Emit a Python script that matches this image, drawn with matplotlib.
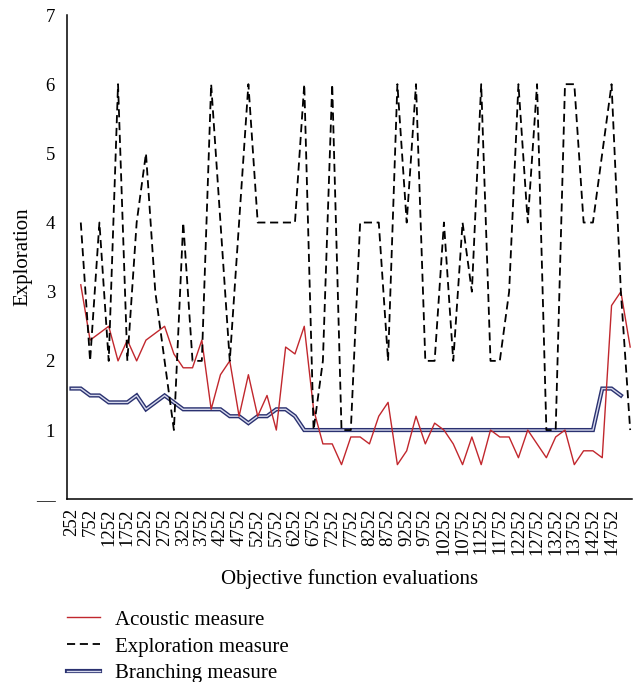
import numpy as np
import matplotlib.pyplot as plt
from matplotlib.lines import Line2D
from matplotlib.legend_handler import HandlerTuple

plt.rcParams['font.family'] = ['Liberation Serif', 'DejaVu Serif']

# evaluation counts (every 250 evaluations)
branch_evals = np.arange(252, 15003, 250)
measure_evals = np.arange(502, 15253, 250)

acoustic = [3.1, 2.3, 2.4, 2.5, 2.0, 2.3, 2.0, 2.3, 2.4, 2.5,
            2.1, 1.9, 1.9, 2.3, 1.3, 1.8, 2.0, 1.2, 1.8, 1.2,
            1.5, 1.0, 2.2, 2.1, 2.5, 1.3, 0.8, 0.8, 0.5, 0.9,
            0.9, 0.8, 1.2, 1.4, 0.5, 0.7, 1.2, 0.8, 1.1, 1.0,
            0.8, 0.5, 0.9, 0.5, 1.0, 0.9, 0.9, 0.6, 1.0, 0.8,
            0.6, 0.9, 1.0, 0.5, 0.7, 0.7, 0.6, 2.8, 3.0, 2.2]

exploration = [4, 2, 4, 2, 6, 2, 4, 5, 3, 2,
               1, 4, 2, 2, 6, 4, 2, 4, 6, 4,
               4, 4, 4, 4, 6, 1, 2, 6, 1, 1,
               4, 4, 4, 2, 6, 4, 6, 2, 2, 4,
               2, 4, 3, 6, 2, 2, 3, 6, 4, 6,
               1, 1, 6, 6, 4, 4, 5, 6, 3, 1]

branching = [1.6, 1.6, 1.5, 1.5, 1.4, 1.4, 1.4, 1.5, 1.3, 1.4,
             1.5, 1.4, 1.3, 1.3, 1.3, 1.3, 1.3, 1.2, 1.2, 1.1,
             1.2, 1.2, 1.3, 1.3, 1.2, 1.0, 1.0, 1.0, 1.0, 1.0,
             1.0, 1.0, 1.0, 1.0, 1.0, 1.0, 1.0, 1.0, 1.0, 1.0,
             1.0, 1.0, 1.0, 1.0, 1.0, 1.0, 1.0, 1.0, 1.0, 1.0,
             1.0, 1.0, 1.0, 1.0, 1.0, 1.0, 1.0, 1.6, 1.6, 1.5]

tick_labels = ['252', '752', '1252', '1752', '2252', '2752', '3252', '3752',
               '4252', '4752', '5252', '5752', '6252', '6752', '7252', '7752',
               '8252', '8752', '9252', '9752', '10252', '10752', '11252',
               '11752', '12252', '12752', '13252', '13752', '14252', '14752']
tick_pos = [int(t) for t in tick_labels]

red = '#c1272d'
navy = '#2a3170'
pale = '#d6d9ec'

fig = plt.figure(figsize=(6.36, 6.82), dpi=100)
ax = fig.add_axes([0.105, 0.268, 0.889, 0.710])

# branching measure drawn as a double line
ax.plot(branch_evals, branching, color=navy, lw=3.0, solid_joinstyle='miter', zorder=2)
ax.plot(branch_evals, branching, color=pale, lw=1.0, solid_joinstyle='miter', zorder=2.1)
ax.plot(measure_evals, acoustic, color=red, lw=1.0, zorder=3)
ax.plot(measure_evals, exploration, color='black', lw=1.3,
        linestyle=(0, (4.5, 2.6)), zorder=4)

ax.set_xlim(126, 15306)
ax.set_ylim(0, 7)
ax.set_yticks(range(8))
ax.set_yticklabels(['—', '1', '2', '3', '4', '5', '6', '7'])
ax.set_xticks(tick_pos)
ax.set_xticklabels(tick_labels, rotation=90)
ax.tick_params(axis='both', length=0, labelsize=13.5)
ax.tick_params(axis='x', pad=6.5)
ax.tick_params(axis='y', pad=8.5)

for side in ['top', 'right']:
    ax.spines[side].set_visible(False)
for side in ['left', 'bottom']:
    ax.spines[side].set_linewidth(1.1)

ax.set_xlabel('Objective function evaluations', fontsize=15, labelpad=10)
ax.set_ylabel('Exploration', fontsize=15, labelpad=2.5)

h_ac = Line2D([], [], color=red, lw=1.0)
h_ex = Line2D([], [], color='black', lw=1.3, linestyle=(0, (4.5, 2.6)))
h_br = (Line2D([], [], color=navy, lw=3.0), Line2D([], [], color=pale, lw=1.0))
fig.legend([h_ac, h_ex, h_br],
           ['Acoustic measure', 'Exploration measure', 'Branching measure'],
           handler_map={tuple: HandlerTuple(ndivide=1)},
           loc='upper left', bbox_to_anchor=(0.105, 0.1055), frameon=False,
           fontsize=15, handlelength=1.6, handletextpad=0.72,
           labelspacing=0.35, borderpad=0, borderaxespad=0)

fig.savefig('out.png', dpi=100)
